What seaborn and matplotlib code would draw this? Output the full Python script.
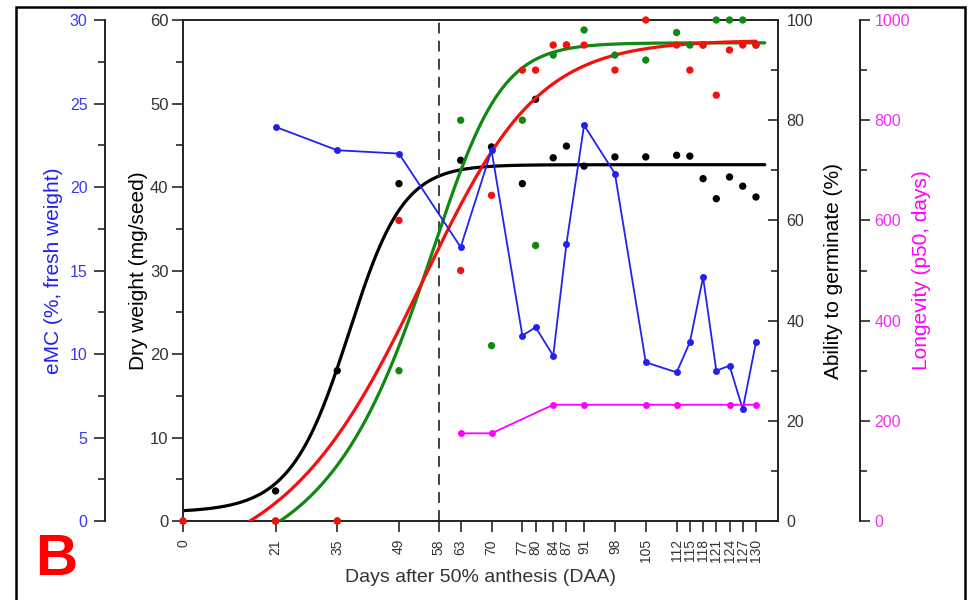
import numpy as np
import matplotlib
matplotlib.use("Agg")
import matplotlib.pyplot as plt
from matplotlib.ticker import MultipleLocator
from matplotlib.patches import Rectangle
import seaborn as sns

# ---- data -------------------------------------------------------------
tick_days = [0, 21, 35, 49, 58, 63, 70, 77, 80, 84, 87, 91, 98, 105,
             112, 115, 118, 121, 124, 127, 130]

dw_days = [21, 35, 49, 63, 70, 77, 80, 84, 87, 91, 98, 105, 112, 115,
           118, 121, 124, 127, 130]
dry_weight = [3.6, 18.0, 40.4, 43.2, 44.8, 40.4, 50.5, 43.5, 44.9, 42.5,
              43.6, 43.6, 43.8, 43.7, 41.0, 38.6, 41.2, 40.1, 38.8]

emc_days = dw_days
emc = [23.6, 22.2, 22.0, 16.4, 22.2, 11.1, 11.6, 9.9, 16.6, 23.7, 20.8,
       9.5, 8.9, 10.7, 14.6, 9.0, 9.3, 6.7, 10.7]

germ_days = [0, 21, 35, 49, 63, 70, 77, 80, 84, 87, 91, 98, 105, 112,
             115, 118, 121, 124, 127, 130]
germ_red = [0, 0, 0, 60, 50, 65, 90, 90, 95, 95, 95, 90, 100, 95, 90, 95,
            85, 94, 95, 95]
germ_green = [0, 0, 0, 30, 80, 35, 80, 55, 93, 95, 98, 93, 92, 97.5, 95,
              95, 100, 100, 100, 95]

long_days = [63, 70, 84, 91, 105, 112, 124, 130]
longevity = [175, 175, 232, 232, 232, 232, 232, 232]

# Richards growth-curve fits: (A1, A2, xc, k, nu)
fit_dry_weight = (1.0325, 42.671, 37.729, 0.16637, 1.2188)
fit_germ_green = (-10.754, 95.443, 56.928, 0.14786, 2.6867)
fit_germ_red = (-11.455, 95.99, 54.629, 0.081699, 1.6824)


def richards(x, a1, a2, xc, k, nu):
    return a1 + (a2 - a1) * (1 + nu * np.exp(-k * (x - xc))) ** (-1 / nu)


# ---- style ------------------------------------------------------------
sns.set_style("ticks")
plt.rcParams["font.family"] = ["Liberation Sans", "DejaVu Sans"]

BLUE = "#2222ee"
BLUE_TXT = "#3a3af0"
MAG = "#ff00ff"
MAG_TXT = "#f030f0"
RED = "#f50f0f"
GREEN = "#118811"
GREY = "#333333"

fig = plt.figure(figsize=(9.72, 6), dpi=100)
ax = fig.add_axes([183 / 972, 79 / 600, 595 / 972, 501 / 600])
ax_g = ax.twinx()
ax_e = ax.twinx()
ax_l = ax.twinx()

grid_long = np.linspace(0, 132, 500)
grid_red = np.linspace(0, 130, 500)

# dry weight
sns.lineplot(x=grid_long, y=richards(grid_long, *fit_dry_weight), ax=ax,
             color="black", lw=2.3)
sns.scatterplot(x=dw_days, y=dry_weight, ax=ax, color="black", s=28,
                edgecolor="none", zorder=3)
ax.axvline(58, color=GREY, lw=1.3, dashes=(6, 4))

# germination
sns.lineplot(x=grid_long, y=richards(grid_long, *fit_germ_green), ax=ax_g,
             color=GREEN, lw=2.3)
sns.lineplot(x=grid_red, y=richards(grid_red, *fit_germ_red), ax=ax_g,
             color=RED, lw=2.3)
sns.scatterplot(x=germ_days, y=germ_green, ax=ax_g, color=GREEN, s=28,
                edgecolor="none", zorder=3, clip_on=False)
sns.scatterplot(x=germ_days, y=germ_red, ax=ax_g, color=RED, s=28,
                edgecolor="none", zorder=4, clip_on=False)

# moisture content
sns.lineplot(x=emc_days, y=emc, ax=ax_e, color=BLUE, lw=1.3, marker="o",
             markersize=5, markeredgewidth=0)

# longevity
sns.lineplot(x=long_days, y=longevity, ax=ax_l, color=MAG, lw=1.3,
             marker="o", markersize=5, markeredgewidth=0)

# ---- axes -------------------------------------------------------------
ax.set_xlim(0, 135)
ax.set_ylim(0, 60)
ax_g.set_ylim(0, 100)
ax_e.set_ylim(0, 30)
ax_l.set_ylim(0, 1000)

ax.set_xticks(tick_days)
ax.set_xticklabels([str(d) for d in tick_days], rotation=90)
ax.tick_params(axis="x", length=8, width=1.2, labelsize=10, pad=5,
               labelcolor=GREY)

ax.set_yticks(range(0, 61, 10))
ax.yaxis.set_minor_locator(MultipleLocator(5))
ax.tick_params(axis="y", which="major", length=8, width=1.2,
               labelsize=12, pad=2.5, labelcolor=GREY)
ax.tick_params(axis="y", which="minor", length=5, width=1.2)

ax_g.set_yticks(range(0, 101, 20))
ax_g.yaxis.set_minor_locator(MultipleLocator(10))
ax_g.tick_params(axis="y", which="both", direction="in", width=1.2,
                 labelsize=11.5, pad=6, labelcolor=GREY)
ax_g.tick_params(axis="y", which="major", length=7)
ax_g.tick_params(axis="y", which="minor", length=5)

ax_e.yaxis.tick_left()
ax_e.yaxis.set_label_position("left")
ax_e.spines["left"].set_position(("axes", -0.131))
ax_e.set_yticks(range(0, 31, 5))
ax_e.yaxis.set_minor_locator(MultipleLocator(2.5))
ax_e.tick_params(axis="y", which="major", length=8, width=1.2,
                 labelsize=11.5, pad=4.5, labelcolor=BLUE_TXT)
ax_e.tick_params(axis="y", which="minor", length=5, width=1.2)

ax_l.spines["right"].set_position(("axes", 1.1378))
ax_l.set_yticks(range(0, 1001, 200))
ax_l.yaxis.set_minor_locator(MultipleLocator(100))
ax_l.tick_params(axis="y", which="major", length=7, width=1.2,
                 labelsize=11.5, pad=3.5, labelcolor=MAG_TXT)
ax_l.tick_params(axis="y", which="minor", length=5, width=1.2)

for a in (ax, ax_g, ax_e, ax_l):
    for s in a.spines.values():
        s.set_linewidth(1.4)
        s.set_color("#222222")
for s in ("left", "top", "bottom"):
    ax_g.spines[s].set_visible(False)
for s in ("right", "top", "bottom"):
    ax_e.spines[s].set_visible(False)
for s in ("left", "top", "bottom"):
    ax_l.spines[s].set_visible(False)
ax.spines["right"].set_visible(False)

ax.set_xlabel("Days after 50% anthesis (DAA)", fontsize=14, color=GREY)
ax.xaxis.set_label_coords(0.5, -0.113)
ax.xaxis.label.set_va("center")

labels = [
    (ax, "Dry weight (mg/seed)", -0.0756, "black"),
    (ax_e, "eMC (%, fresh weight)", -0.217, BLUE),
    (ax_g, "Ability to germinate (%)", 1.094, "black"),
    (ax_l, "Longevity (p50, days)", 1.242, MAG),
]
for a, text, xpos, col in labels:
    a.set_ylabel(text, fontsize=15, color=col)
    a.yaxis.set_label_coords(xpos, 0.5)
    a.yaxis.label.set_va("center")
    a.yaxis.label.set_ha("center")

# panel letter and frame
fig.text(35 / 972, 25 / 600, "B", color="#ff0000", fontsize=42,
         fontweight="bold", ha="left", va="baseline")

fig.add_artist(Rectangle((16 / 972, -0.05), 949 / 972, 593 / 600 + 0.05,
                         transform=fig.transFigure, fill=False,
                         lw=1.8, edgecolor="black"))

fig.savefig("out.png", dpi=100)
